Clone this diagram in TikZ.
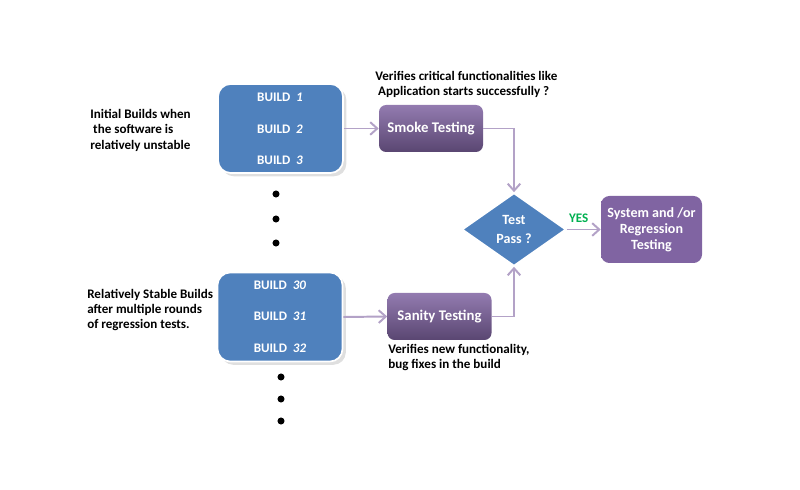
\documentclass[tikz,border=0pt]{standalone}
\usepackage{fontspec}
\setmainfont{Carlito}
\usepackage{xcolor}
\usetikzlibrary{shapes,arrows,positioning,calc,arrows.meta,shadows}

\definecolor{buildblue}{HTML}{4F81BD}
\definecolor{testpurple}{HTML}{8064A2}
\definecolor{linkpurple}{HTML}{B3A2C7}
\definecolor{yesgreen}{HTML}{00B050}

\begin{document}
\begin{tikzpicture}[x=0.025cm,y=-0.025cm,font=\bfseries\fontsize{9.3}{11}\selectfont,
    buildbox/.style={draw=white,line width=1.2pt,fill=buildblue,rounded corners=9pt,
        minimum width=125*0.025cm,minimum height=89*0.025cm,drop shadow={opacity=0.25}},
    buildtxt/.style={text=white},
    testbox/.style={rounded corners=5pt,top color=testpurple!85!white,bottom color=testpurple!70!black,
        text=white,minimum width=104*0.025cm,minimum height=47*0.025cm,font=\bfseries\fontsize{10.5}{12.5}\selectfont},
    note/.style={align=left,inner sep=0pt},
    link/.style={draw=linkpurple,line width=1.4pt,-{Straight Barb[length=5pt,width=9pt]}},
    blob/.style={circle,fill=black,inner sep=0pt,minimum size=5pt}]
        \useasboundingbox (0,0) rectangle (800,490);
        % Builds
        \node[buildbox] (b1) at (280.5,128.5) {};
        \node[buildtxt] at (280,97) {BUILD \ \textit{1}};
        \node[buildtxt] at (280,129) {BUILD \ \textit{2}};
        \node[buildtxt] at (280,160) {BUILD \ \textit{3}};
        \node[buildbox] (b2) at (280,317) {};
        \node[buildtxt] at (280,285) {BUILD \ \textit{30}};
        \node[buildtxt] at (280,316) {BUILD \ \textit{31}};
        \node[buildtxt] at (280,348) {BUILD \ \textit{32}};
        \foreach \y in {194,219,243} \node[blob] at (276,\y) {};
        \foreach \y in {377,399,421} \node[blob] at (281,\y) {};
        % Notes
        \node[note,anchor=west] at (90,130) {Initial Builds when\\\ the software is\\relatively unstable};
        \node[note,anchor=west] at (87,310) {Relatively Stable Builds\\after multiple rounds\\of regression tests.};
        \node[note,anchor=south west] at (375,98) {Verifies critical functionalities like\\\ Application starts successfully ?};
        \node[note,anchor=north west] at (388,344) {Verifies new functionality,\\bug fixes in the build};
        % Tests
        \node[testbox] (smoke) at (431,128.5) {Smoke Testing};
        \node[testbox] (sanity) at (439.5,316.5) {Sanity Testing};
        \node[diamond,fill=buildblue,draw=white,line width=1.2pt,text=white,align=center,
            font=\bfseries\fontsize{10}{13}\selectfont,
            minimum width=104*0.025cm,minimum height=73*0.025cm,inner sep=0pt] (pass) at (514,229.5) {Test\\Pass ?};
        \node[testbox,align=center,minimum width=101*0.025cm,minimum height=67*0.025cm,
            rounded corners=6pt,top color=testpurple,bottom color=testpurple,
            font=\bfseries\fontsize{10}{11.5}\selectfont] (sys) at (651.5,229.5)
            {System and /or\\Regression\\Testing};
        % Links
        \draw[link] (b1.east) -- (smoke.west);
        \draw[link] (b2.east) -- (sanity.west);
        \draw[link] (smoke.east) -| (pass.north);
        \draw[link] (sanity.east) -| (pass.south);
        \draw[link] (pass.east) -- node[above=1pt,pos=0.35,text=yesgreen] {YES} (sys.west);
    \end{tikzpicture}
\end{document}
